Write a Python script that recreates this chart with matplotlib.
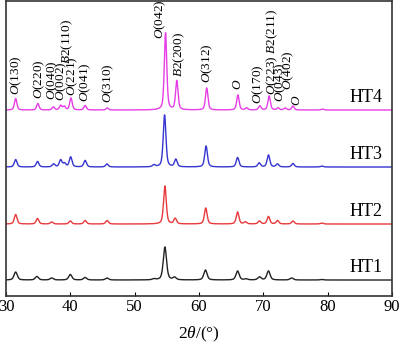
import matplotlib.pyplot as plt
import numpy as np

plt.rcParams['font.family'] = 'Liberation Serif'
plt.rcParams['mathtext.fontset'] = 'custom'
plt.rcParams['mathtext.rm'] = 'Liberation Serif'
plt.rcParams['mathtext.it'] = 'Liberation Serif:italic'

# peak tables (2theta, relative intensity) for each heat treatment
ht1_pos = [31.5, 34.8, 37.1, 40.0, 42.3, 45.7, 53.0, 54.7, 56.2, 61.0, 66.0, 67.3, 69.4, 70.8, 74.4, 79.1]
ht1_int = [8, 3.5, 2, 5.5, 2.5, 2, 1, 33, 2.5, 10, 9, 1, 3, 9, 2, 0.5]
ht2_pos = [31.5, 34.9, 37.1, 40.0, 42.3, 45.7, 54.7, 56.3, 61.05, 66.0, 67.2, 69.4, 70.8, 72.2, 74.6, 79.1]
ht2_int = [9.5, 5.5, 2, 3, 3.5, 3.5, 38, 5.5, 16, 12, 2, 3, 7.5, 3.5, 3, 1]
ht3_pos = [31.5, 34.9, 37.4, 38.5, 39.1, 40.05, 42.3, 45.7, 53.0, 54.65, 56.4, 61.1, 66.0, 69.35, 70.8, 72.2, 74.6, 79.1]
ht3_int = [7.5, 5.5, 3, 7, 3.5, 10, 6.5, 3, 2, 52, 7.5, 21, 9.5, 4, 12, 3, 3.5, 1]
ht4_pos = [31.5, 34.95, 37.35, 38.5, 39.05, 40.1, 42.3, 45.75, 54.8, 56.55, 61.2, 66.05, 67.4, 69.45, 70.9, 72.3, 73.4, 74.6, 79.2]
ht4_int = [11.5, 6.5, 3, 4.5, 3.5, 12, 4.5, 2, 77, 29, 22, 15, 2, 4, 14, 2, 2, 4, 1]

names = ['HT1', 'HT2', 'HT3', 'HT4']
offsets = [16, 72, 129, 186]
fwhm = [0.6, 0.5, 0.5, 0.45]
colors = ['#222222', '#e8393c', '#3535d0', '#e63ee6']

# phase indexing marks: label, 2theta, bottom of text
hkl_labels = [r'$\mathit{O}$(130)', r'$\mathit{O}$(220)', r'$\mathit{O}$(040)', r'$\mathit{O}$(002)',
              r'$\mathit{B}$2(110)', r'$\mathit{O}$(221)', r'$\mathit{O}$(041)', r'$\mathit{O}$(310)',
              r'$\mathit{O}$(042)', r'$\mathit{B}$2(200)', r'$\mathit{O}$(312)', r'$\mathit{O}$',
              r'$\mathit{O}$(170)', r'$\mathit{O}$(223) $\mathit{B}$2(211)', r'$\mathit{O}$(043)',
              r'$\mathit{O}$(402)', r'$\mathit{O}$']
hkl_x = [31.6, 35.1, 37.15, 38.55, 39.45, 40.3, 42.4, 45.85, 53.95, 56.9, 61.25, 66.05,
         69.2, 71.35, 72.6, 73.9, 75.2]
hkl_y = [201, 197, 196, 195, 232, 200, 194, 193, 257, 219, 213, 206, 192, 201, 194, 206, 190]


def pattern(x, pos, inten, w):
    y = np.zeros_like(x)
    for p, h in zip(pos, inten):
        u = (x - p) / (w / 2)
        y += h * (0.5 / (1 + u ** 2) + 0.5 * np.exp(-np.log(2) * u ** 2))
    return y


two_theta = np.linspace(30, 90, 4001)
tables = [(ht1_pos, ht1_int), (ht2_pos, ht2_int), (ht3_pos, ht3_int), (ht4_pos, ht4_int)]

fig = plt.figure(figsize=(4.0, 3.43), dpi=100)
ax = fig.add_axes([0.015, 0.137, 0.965, 0.86])

for (pos, inten), off, w, c, name in zip(tables, offsets, fwhm, colors, names):
    ax.plot(two_theta, off + pattern(two_theta, pos, inten, w), color=c, lw=1.0)
    ax.text(88.6, off + 4, name, ha='right', va='bottom', fontsize=13)

for lab, x, y in zip(hkl_labels, hkl_x, hkl_y):
    ax.text(x, y, lab, rotation=90, ha='center', va='bottom', fontsize=9.5)

ax.set_xlim(30, 90)
ax.set_ylim(0, 295)
ax.set_xticks(np.arange(30, 91, 10))
ax.set_yticks([])
ax.tick_params(axis='x', direction='in', length=3, labelsize=12, pad=2)
for s in ax.spines.values():
    s.set_color('#333333')
    s.set_linewidth(1.2)
ax.set_xlabel(r'$2\mathit{\theta}$/(°)', fontsize=12.5, labelpad=7)

fig.savefig('out.png', dpi=100)
